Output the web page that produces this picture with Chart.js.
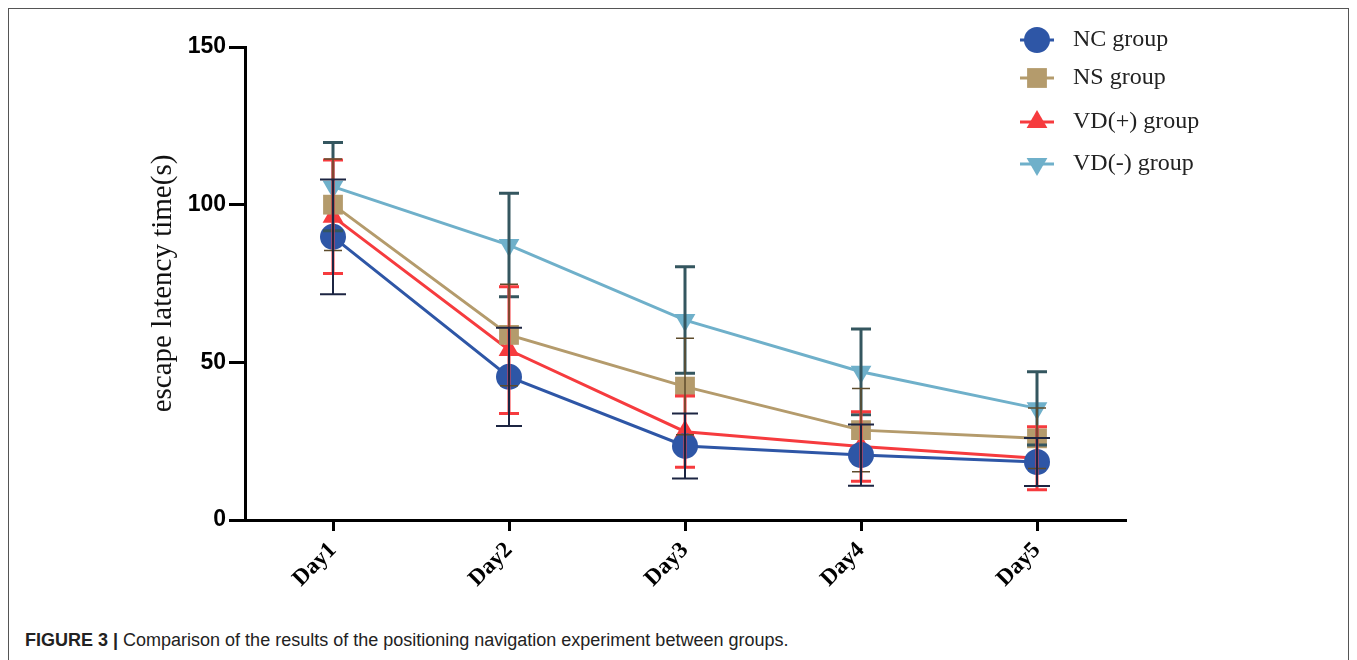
<!DOCTYPE html>
<html>
<head>
<meta charset="utf-8">
<script src="https://cdn.jsdelivr.net/npm/chart.js@4.4.0/dist/chart.umd.min.js"></script>
<style>
  html, body { margin: 0; padding: 0; background: #fff; }
  #wrap { position: relative; width: 1357px; height: 660px; overflow: hidden; }
  #frame { position: absolute; left: 8px; top: 8px; width: 1341px; height: 700px; border: 1px solid #555; box-sizing: border-box; }
  #chartbox { position: absolute; left: 0; top: 0; width: 1357px; height: 620px; }
  #caption { position: absolute; left: 25px; top: 630px; font: 18px "Liberation Sans", Arial, sans-serif; color: #222; }
  #caption b { font-weight: bold; }
</style>
</head>
<body>
<div id="wrap">
  <div id="frame"></div>
  <div id="chartbox"><canvas id="chart" width="1357" height="620"></canvas></div>
  <div id="caption"><b>FIGURE 3 |</b> Comparison of the results of the positioning navigation experiment between groups.</div>
</div>
<script>
// data
var days = ['Day1', 'Day2', 'Day3', 'Day4', 'Day5'];
var yTicks = [0, 50, 100, 150];

var ncMean = [89.8, 45.4, 23.5, 20.6, 18.4];
var ncErr  = [18.2, 15.6, 10.3, 9.7, 7.6];
var nsMean = [100.0, 58.7, 42.3, 28.5, 25.9];
var nsErr  = [14.5, 16.1, 15.3, 13.2, 9.6];
var vdpMean = [96.2, 53.9, 28.0, 23.3, 19.6];
var vdpErr  = [18.0, 20.1, 11.3, 11.0, 10.0];
var vdmMean = [105.7, 87.2, 63.4, 47.0, 35.4];
var vdmErr  = [14.0, 16.4, 16.9, 13.6, 11.6];

var groups = ['NC group', 'NS group', 'VD(+) group', 'VD(-) group'];

function mkSet(label, data, err, color, errColor, style, radius, rot, errW, capW) {
	return {
		label: label,
		data: data,
		errors: err,
		borderColor: color,
		backgroundColor: color,
		pointBackgroundColor: color,
		pointBorderColor: color,
		pointStyle: style,
		pointRadius: radius,
		pointRotation: rot,
		pointBorderWidth: 0,
		borderWidth: 3,
		tension: 0,
		errColor: errColor,
		errWidth: errW,
		capHalf: capW
	};
}

var errorBars = {
	id: 'errorBars',
	afterDatasetsDraw: function(chart) {
		var ctx = chart.ctx;
		var y = chart.scales.y;
		for (var i = chart.data.datasets.length - 1; i >= 0; i--) {
			var ds = chart.data.datasets[i];
			var meta = chart.getDatasetMeta(i);
			ctx.save();
			ctx.strokeStyle = ds.errColor;
			ctx.lineWidth = ds.errWidth;
			meta.data.forEach(function(pt, j) {
				var top = y.getPixelForValue(ds.data[j] + ds.errors[j]);
				var bot = y.getPixelForValue(ds.data[j] - ds.errors[j]);
				ctx.beginPath();
				ctx.moveTo(pt.x, top);
				ctx.lineTo(pt.x, bot);
				ctx.moveTo(pt.x - ds.capHalf, top);
				ctx.lineTo(pt.x + ds.capHalf, top);
				ctx.moveTo(pt.x - ds.capHalf, bot);
				ctx.lineTo(pt.x + ds.capHalf, bot);
				ctx.stroke();
			});
			ctx.restore();
		}
	}
};

var legendBox = {
	id: 'legendBox',
	afterDraw: function(chart) {
		var ctx = chart.ctx;
		var rows = [40, 78, 122, 164];
		chart.data.datasets.forEach(function(ds, i) {
			var cx = 1037, cy = rows[i];
			ctx.save();
			ctx.strokeStyle = ds.borderColor;
			ctx.lineWidth = 3;
			ctx.beginPath();
			ctx.moveTo(cx - 17, cy);
			ctx.lineTo(cx + 17, cy);
			ctx.stroke();
			ctx.fillStyle = ds.borderColor;
			ctx.strokeStyle = ds.borderColor;
			Chart.helpers.drawPoint(ctx, {
				pointStyle: ds.pointStyle,
				rotation: ds.pointRotation,
				radius: ds.pointRadius,
				borderWidth: 0
			}, cx, cy);
			ctx.fillStyle = '#222';
			ctx.font = '24px "Liberation Serif", "Times New Roman", serif';
			ctx.textBaseline = 'middle';
			ctx.fillText(ds.label, 1073, cy);
			ctx.restore();
		});
	}
};

var ctx = document.getElementById('chart');
new Chart(ctx, {
	type: 'line',
	data: {
		labels: days,
		datasets: [
			mkSet(groups[0], ncMean, ncErr, '#2e56a6', '#1c2542', 'circle', 13, 0, 2, 13),
			mkSet(groups[1], nsMean, nsErr, '#b49b6c', '#5e4c2c', 'rect', 14, 0, 1.5, 9),
			mkSet(groups[2], vdpMean, vdpErr, '#f63b3e', '#f63b3e', 'triangle', 12, 0, 3, 10),
			mkSet(groups[3], vdmMean, vdmErr, '#6fb0ca', '#34565f', 'triangle', 12, 180, 3, 10)
		]
	},
	options: {
		responsive: false,
		animation: false,
		layout: { padding: { left: 146, top: 47, right: 232, bottom: 0 } },
		plugins: { legend: { display: false }, tooltip: { enabled: false } },
		scales: {
			x: {
				type: 'category',
				offset: true,
				grid: { drawOnChartArea: false, drawTicks: true, tickLength: 11, color: '#000', lineWidth: 3 },
				border: { color: '#000', width: 3 },
				ticks: {
					color: '#000',
					minRotation: 45,
					maxRotation: 45,
					padding: 6,
					font: { family: '"Liberation Serif", "Times New Roman", serif', size: 23, weight: 'bold' }
				},
				afterFit: function(scale) { scale.height = 100; }
			},
			y: {
				min: 0,
				max: 150,
				afterBuildTicks: function(scale) {
					scale.ticks = yTicks.map(function(v) { return { value: v }; });
				},
				grid: { drawOnChartArea: false, drawTicks: true, tickLength: 16, color: '#000', lineWidth: 3 },
				border: { color: '#000', width: 3 },
				ticks: {
					color: '#000',
					padding: 3,
					font: { family: '"Liberation Sans", Arial, sans-serif', size: 23, weight: 'bold' }
				},
				title: {
					display: true,
					text: 'escape latency time(s)',
					color: '#111',
					padding: { top: 0, bottom: 0 },
					font: { family: '"Liberation Serif", "Times New Roman", serif', size: 29 }
				},
				afterFit: function(scale) { scale.width = 99; }
			}
		}
	},
	plugins: [errorBars, legendBox]
});
</script>
</body>
</html>
